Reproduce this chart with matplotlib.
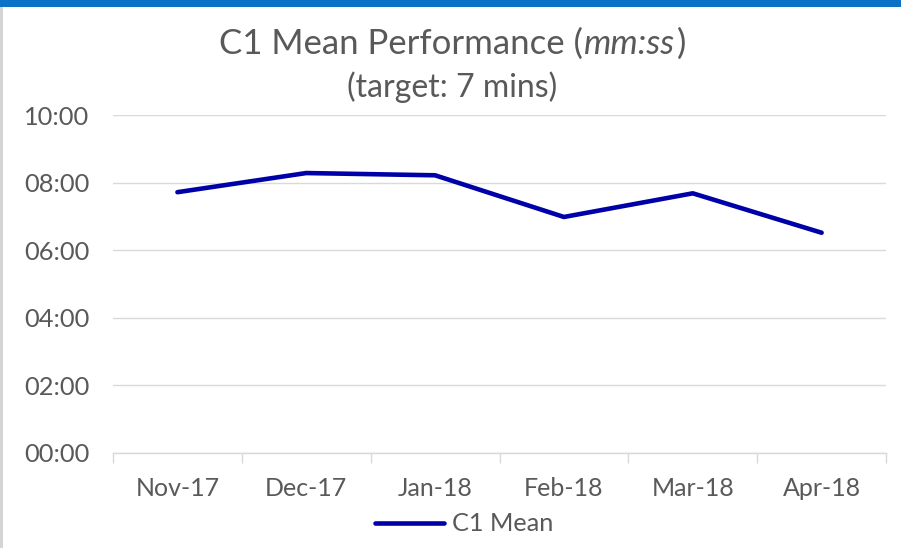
import matplotlib.pyplot as plt
from matplotlib.ticker import FuncFormatter, FixedLocator
from matplotlib.patches import Rectangle
from matplotlib.offsetbox import TextArea, HPacker, AnnotationBbox

plt.rcParams['font.family'] = ['Lato', 'DejaVu Sans']

months = ['Nov-17', 'Dec-17', 'Jan-18', 'Feb-18', 'Mar-18', 'Apr-18']
c1_mean = [463, 497, 493, 419, 461, 391]  # seconds
y_ticks = [0, 120, 240, 360, 480, 600]

grey_txt = '#595959'
grid_col = '#d9d9d9'

fig = plt.figure(figsize=(9.01, 5.48), dpi=100)
ax = fig.add_axes([0.1254, 0.1734, 0.858, 0.6167])

x = list(range(len(months)))
ax.plot(x, c1_mean, color='#0000a8', lw=3.3, solid_capstyle='round',
        solid_joinstyle='round', label='C1 Mean')

ax.set_xlim(-0.5, len(months) - 0.5)
ax.set_ylim(0, 600)
ax.set_yticks(y_ticks)
ax.yaxis.set_major_formatter(FuncFormatter(lambda v, p: '%02d:%02d' % (v // 60, v % 60)))
ax.set_xticks(x)
ax.set_xticklabels(months)
ax.xaxis.set_minor_locator(FixedLocator([i - 0.5 for i in range(len(months) + 1)]))

ax.grid(axis='y', color=grid_col, lw=1)
ax.set_axisbelow(True)
for s in ['top', 'right', 'left']:
    ax.spines[s].set_visible(False)
ax.spines['bottom'].set_color(grid_col)
ax.spines['bottom'].set_linewidth(1)

ax.tick_params(axis='y', length=0, pad=17, labelsize=18.3, labelcolor=grey_txt)
ax.tick_params(axis='x', which='major', length=0, pad=17, labelsize=18, labelcolor=grey_txt)
ax.tick_params(axis='x', which='minor', length=7, width=1, color=grid_col, direction='out')

# title with italic part
t1 = TextArea('C1 Mean Performance (', textprops=dict(fontsize=25, color=grey_txt))
t2 = TextArea('mm:ss', textprops=dict(fontsize=25, color=grey_txt, style='italic'))
t3 = TextArea(')', textprops=dict(fontsize=25, color=grey_txt))
box = HPacker(children=[t1, t2, t3], align='baseline', pad=0, sep=1)
ab = AnnotationBbox(box, (0.502, 0.92), xycoords='figure fraction', frameon=False)
fig.add_artist(ab)
fig.text(0.502, 0.841, '(target: 7 mins)', ha='center', va='center', fontsize=23, color=grey_txt)

fig.legend(loc='center', bbox_to_anchor=(0.515, 0.044), frameon=False, fontsize=18.2,
           handlelength=2.75, handletextpad=0.3, labelcolor=grey_txt)

# frame decoration
fig.add_artist(Rectangle((0, 1 - 7 / 548), 1, 7 / 548, transform=fig.transFigure,
                         color='#0b72c6', lw=0))
fig.add_artist(Rectangle((0, 0), 3 / 901, 1 - 7 / 548, transform=fig.transFigure,
                         color='#d4d4d4', lw=0))

fig.savefig('out.png', dpi=100)
